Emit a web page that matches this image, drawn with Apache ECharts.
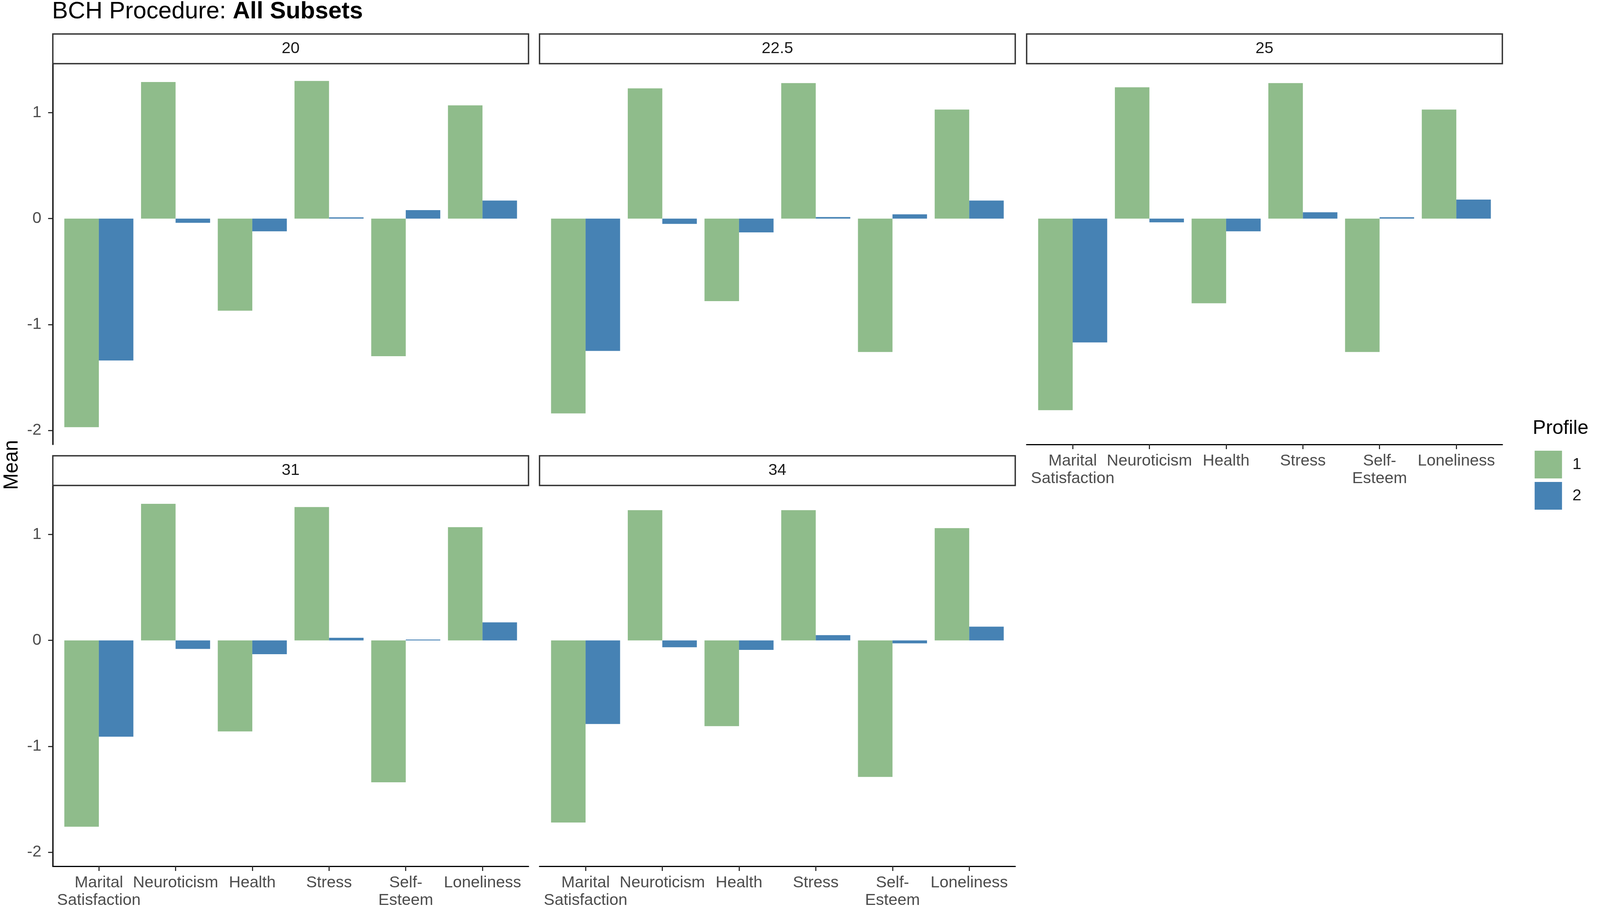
<!DOCTYPE html>
<html>
<head>
<meta charset="utf-8">
<script src="https://cdn.jsdelivr.net/npm/echarts@6/dist/echarts.min.js"></script>
<style>
html,body{margin:0;padding:0;background:#fff;overflow:hidden;}
#chart{width:100vw;height:100vh;}
</style>
</head>
<body>
<div id="chart"></div>
<script>
// ---- data ----
const categories = ['Marital\nSatisfaction', 'Neuroticism', 'Health', 'Stress', 'Self-\nEsteem', 'Loneliness'];
const panelNames = ['20', '22.5', '25', '31', '34'];
const profileNames = ['1', '2'];
const yTickValues = [-2, -1, 0, 1];

const profile1_20   = [-1.97, 1.29, -0.87, 1.30, -1.30, 1.07];
const profile2_20   = [-1.34, -0.04, -0.12, 0.012, 0.08, 0.17];
const profile1_22_5 = [-1.84, 1.23, -0.78, 1.28, -1.26, 1.03];
const profile2_22_5 = [-1.25, -0.05, -0.13, 0.015, 0.04, 0.17];
const profile1_25   = [-1.81, 1.24, -0.80, 1.28, -1.26, 1.03];
const profile2_25   = [-1.17, -0.035, -0.12, 0.06, 0.013, 0.18];
const profile1_31   = [-1.76, 1.29, -0.86, 1.26, -1.34, 1.07];
const profile2_31   = [-0.91, -0.08, -0.13, 0.025, 0.008, 0.17];
const profile1_34   = [-1.72, 1.23, -0.81, 1.23, -1.29, 1.06];
const profile2_34   = [-0.79, -0.065, -0.09, 0.05, -0.028, 0.13];

const profile1 = [profile1_20, profile1_22_5, profile1_25, profile1_31, profile1_34];
const profile2 = [profile2_20, profile2_22_5, profile2_25, profile2_31, profile2_34];

// ---- layout (designed for 4211 px width; scaled to the real viewport width) ----
const W = window.innerWidth || 4211;
const sx = W / 4211;
const X = v => v * sx;
const colLeft = [139, 1420, 2702];
const rowTop = [163, 1243];
const panelW = 1252, panelH = 975, stripH = 76;
const band = panelW / 6.2;
const panelPos = [[0,0],[0,1],[0,2],[1,0],[1,1]]; // [row, col]
const showXAxis = [false, false, true, true, true];
const showYAxis = [true, false, false, true, false];
const colors = ['#8FBC8B', '#4682B4'];

const allVals = profile1.flat().concat(profile2.flat()).concat([0]);
const dMin = Math.min(...allVals), dMax = Math.max(...allVals);
const pad = 0.05 * (dMax - dMin);
const yMin = dMin - pad, yMax = dMax + pad;

const grid = [], xAxis = [], yAxis = [], series = [], graphic = [];
const labelFont = 'Liberation Sans, Arial, Helvetica, sans-serif';
const fs = v => Math.round(v * (0.5 + 0.5 * sx) * 10) / 10;

panelNames.forEach((name, k) => {
  const [r, c] = panelPos[k];
  const L = colLeft[c], T = rowTop[r];
  grid.push({left: X(L), top: T, width: X(panelW), height: panelH});
  grid.push({left: X(L + band * 0.1), top: T, width: X(band * 6), height: panelH});
  const go = 2 * k, gi = 2 * k + 1;

  xAxis.push({
    type: 'value', gridIndex: go, min: 0, max: 1, position: 'bottom',
    show: showXAxis[k],
    axisLine: {show: true, onZero: false, lineStyle: {color: '#000', width: 3.2}},
    axisTick: {show: false}, axisLabel: {show: false}, splitLine: {show: false}
  });
  xAxis.push({
    type: 'category', gridIndex: gi, data: categories, position: 'bottom',
    axisLine: {show: false, onZero: false},
    axisTick: {show: showXAxis[k], alignWithLabel: true, length: 12, lineStyle: {color: '#333', width: 3}},
    axisLabel: {show: showXAxis[k], interval: 0, fontSize: fs(42), color: '#4D4D4D', lineHeight: 45,
      margin: 20, fontFamily: labelFont, align: 'center'},
    splitLine: {show: false}
  });

  yAxis.push({
    type: 'value', gridIndex: go, min: yMin, max: yMax,
    show: showYAxis[k],
    axisLine: {show: true, onZero: false, lineStyle: {color: '#000', width: 3.2}},
    axisTick: {show: true, length: 12, customValues: yTickValues, lineStyle: {color: '#333', width: 3}},
    axisLabel: {show: true, customValues: yTickValues, fontSize: fs(42), color: '#4D4D4D', margin: X(30), fontFamily: labelFont},
    splitLine: {show: false}
  });
  yAxis.push({
    type: 'value', gridIndex: gi, min: yMin, max: yMax, show: false, splitLine: {show: false}
  });

  [profile1[k], profile2[k]].forEach((vals, s) => {
    series.push({
      type: 'bar', name: profileNames[s], data: vals,
      xAxisIndex: gi, yAxisIndex: gi,
      barWidth: '45%', barGap: '0%',
      itemStyle: {color: colors[s]},
      emphasis: {disabled: true}
    });
  });

  graphic.push({
    type: 'rect', shape: {x: X(L), y: T - stripH, width: X(panelW), height: stripH},
    style: {fill: '#fff', stroke: '#333', lineWidth: 3.5}, z: 10
  });
  graphic.push({
    type: 'text', x: X(L + panelW / 2), y: T - stripH / 2,
    style: {text: name, fontSize: fs(42), fill: '#1A1A1A', align: 'center', verticalAlign: 'middle', fontFamily: labelFont},
    z: 11
  });
});

graphic.push({
  type: 'text', x: X(32), y: (rowTop[0] + rowTop[1] + panelH) / 2, rotation: Math.PI / 2,
  style: {text: 'Mean', fontSize: 51, fill: '#000', align: 'center', verticalAlign: 'middle', fontFamily: labelFont}
});

const chart = echarts.init(document.getElementById('chart'), null, {renderer: 'canvas'});
chart.setOption({
  animation: false,
  backgroundColor: '#fff',
  title: [
    {
      text: '{n|BCH Procedure: }{b|All Subsets}', left: X(137), top: 0, padding: 0,
      textStyle: {rich: {
        n: {fontSize: fs(62), fontWeight: 'normal', color: '#000', fontFamily: labelFont},
        b: {fontSize: fs(62), fontWeight: 'bold', color: '#000', fontFamily: labelFont}
      }}
    },
    {
      text: 'Profile', left: X(4034), top: 1072, padding: 0,
      textStyle: {fontSize: fs(51), fontWeight: 'normal', color: '#000', fontFamily: labelFont}
    }
  ],
  legend: {
    data: profileNames, orient: 'vertical', left: X(4039), top: 1154, padding: 0,
    itemWidth: X(72), itemHeight: 71, itemGap: 9, icon: 'rect',
    textStyle: {fontSize: fs(42), color: '#1A1A1A', fontFamily: labelFont, padding: [0, 0, 0, X(22)]},
    selectedMode: false
  },
  grid, xAxis, yAxis, series, graphic
});
</script>
</body>
</html>
